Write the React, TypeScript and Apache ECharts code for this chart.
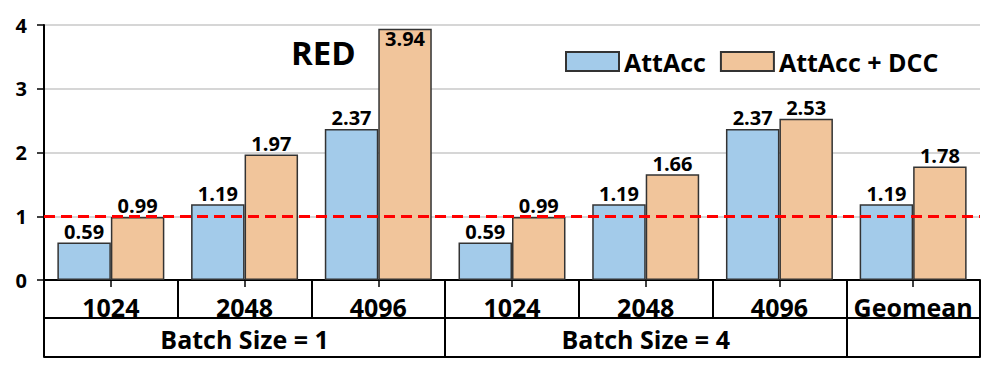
import React, { useEffect, useRef } from "react";
import * as echarts from "echarts";

const categories = ["1024", "2048", "4096", "1024", "2048", "4096", "Geomean"];
const groupNames = ["Batch Size = 1", "Batch Size = 4", ""];
const groupSpans = [3, 3, 1];
const seriesNames = ["AttAcc", "AttAcc + DCC"];
const attAcc = [0.59, 1.19, 2.37, 0.59, 1.19, 2.37, 1.19];
const attAccDcc = [0.99, 1.97, 3.94, 0.99, 1.66, 2.53, 1.78];
const yMin = 0;
const yMax = 4;
const yStep = 1;
const baseline = 1;
const titleText = "RED";

const FONT = "'Open Sans', 'Noto Sans', sans-serif";
const BLUE = "#a3cbea";
const ORANGE = "#f1c59b";
const INK = "#000";

// build the group-row labels (centered in each span) and boundary indices
const groupLabels: string[] = [];
const groupBoundaries: number[] = [];
{
  let start = 0;
  groupSpans.forEach((span, gi) => {
    groupBoundaries.push(start);
    for (let k = 0; k < span; k++) {
      groupLabels.push(k === Math.floor((span - 1) / 2) ? groupNames[gi] : "");
    }
    start += span;
  });
}

const labelStyle = {
  show: true,
  position: "top" as const,
  distance: 1,
  fontFamily: FONT,
  fontSize: 20,
  fontWeight: "bold" as const,
  color: INK,
  formatter: (p: any) => Number(p.value).toFixed(2),
};

function toData(values: number[]) {
  return values.map((v) =>
    v > yMax - 0.3 ? { value: v, label: { position: "insideTop", distance: 0 } } : v
  );
}

export default function App() {
  const ref = useRef<HTMLDivElement>(null);
  useEffect(() => {
    if (!ref.current) return;
    const chart = echarts.init(ref.current, null, { renderer: "svg" });
    const tableLine = { color: INK, width: 2 };
    chart.setOption({
      animation: false,
      backgroundColor: "#fff",
      textStyle: { fontFamily: FONT },
      title: {
        text: titleText,
        left: 286,
        top: 31,
        textStyle: { fontFamily: FONT, fontSize: 33, fontWeight: "bold", color: INK },
      },
      legend: {
        data: seriesNames,
        left: 560,
        top: 44,
        icon: "rect",
        itemWidth: 53,
        itemHeight: 19,
        itemGap: 14,
        textStyle: { fontFamily: FONT, fontSize: 25, fontWeight: "bold", color: INK },
      },
      grid: { left: 44, right: 16, top: 25, bottom: 87, containLabel: false },
      xAxis: [
        {
          type: "category",
          data: categories,
          position: "bottom",
          axisLine: { show: true, lineStyle: tableLine },
          axisTick: { show: true, alignWithLabel: true, length: 7, lineStyle: { color: INK, width: 1.5 } },
          axisLabel: { interval: 0, fontFamily: FONT, fontSize: 25, fontWeight: "bold", color: INK, margin: 14 },
        },
        {
          type: "category",
          data: categories,
          position: "bottom",
          axisLine: { show: false },
          axisTick: { show: true, interval: 0, length: 38, lineStyle: tableLine },
          axisLabel: { show: false },
        },
        {
          type: "category",
          data: groupLabels,
          position: "bottom",
          offset: 38,
          axisLine: { show: true, lineStyle: tableLine },
          axisTick: {
            show: true,
            length: 39,
            interval: (i: number) => groupBoundaries.includes(i),
            lineStyle: tableLine,
          },
          axisLabel: { interval: 0, fontFamily: FONT, fontSize: 25, fontWeight: "bold", color: INK, margin: 8 },
        },
        {
          type: "category",
          data: categories,
          position: "bottom",
          offset: 77,
          axisLine: { show: true, lineStyle: tableLine },
          axisTick: { show: false },
          axisLabel: { show: false },
        },
      ],
      yAxis: {
        type: "value",
        min: yMin,
        max: yMax,
        interval: yStep,
        axisLine: { show: true, lineStyle: { color: INK, width: 2 } },
        axisTick: { show: true, length: 7, lineStyle: { color: INK, width: 1.5 } },
        axisLabel: { fontFamily: FONT, fontSize: 20, fontWeight: "bold", color: INK, margin: 17 },
        splitLine: { show: true, lineStyle: { color: "#c8c8c8", width: 1.5 } },
      },
      series: [
        {
          name: seriesNames[0],
          type: "bar",
          xAxisIndex: 0,
          data: toData(attAcc),
          barGap: "0%",
          barCategoryGap: "20%",
          itemStyle: { color: BLUE, borderColor: "#333", borderWidth: 1.5 },
          label: labelStyle,
        },
        {
          name: seriesNames[1],
          type: "bar",
          xAxisIndex: 0,
          data: toData(attAccDcc),
          barGap: "0%",
          barCategoryGap: "20%",
          itemStyle: { color: ORANGE, borderColor: "#333", borderWidth: 1.5 },
          label: labelStyle,
          markLine: {
            silent: true,
            symbol: ["none", "none"],
            label: { show: false },
            lineStyle: { color: "#ff0000", type: [11, 6], width: 3 },
            data: [{ yAxis: baseline }],
          },
        },
      ],
    });
    return () => chart.dispose();
  }, []);
  return (
    <div
      ref={ref}
      style={{ position: "fixed", left: 0, top: 0, width: 996, height: 367 }}
    />
  );
}
